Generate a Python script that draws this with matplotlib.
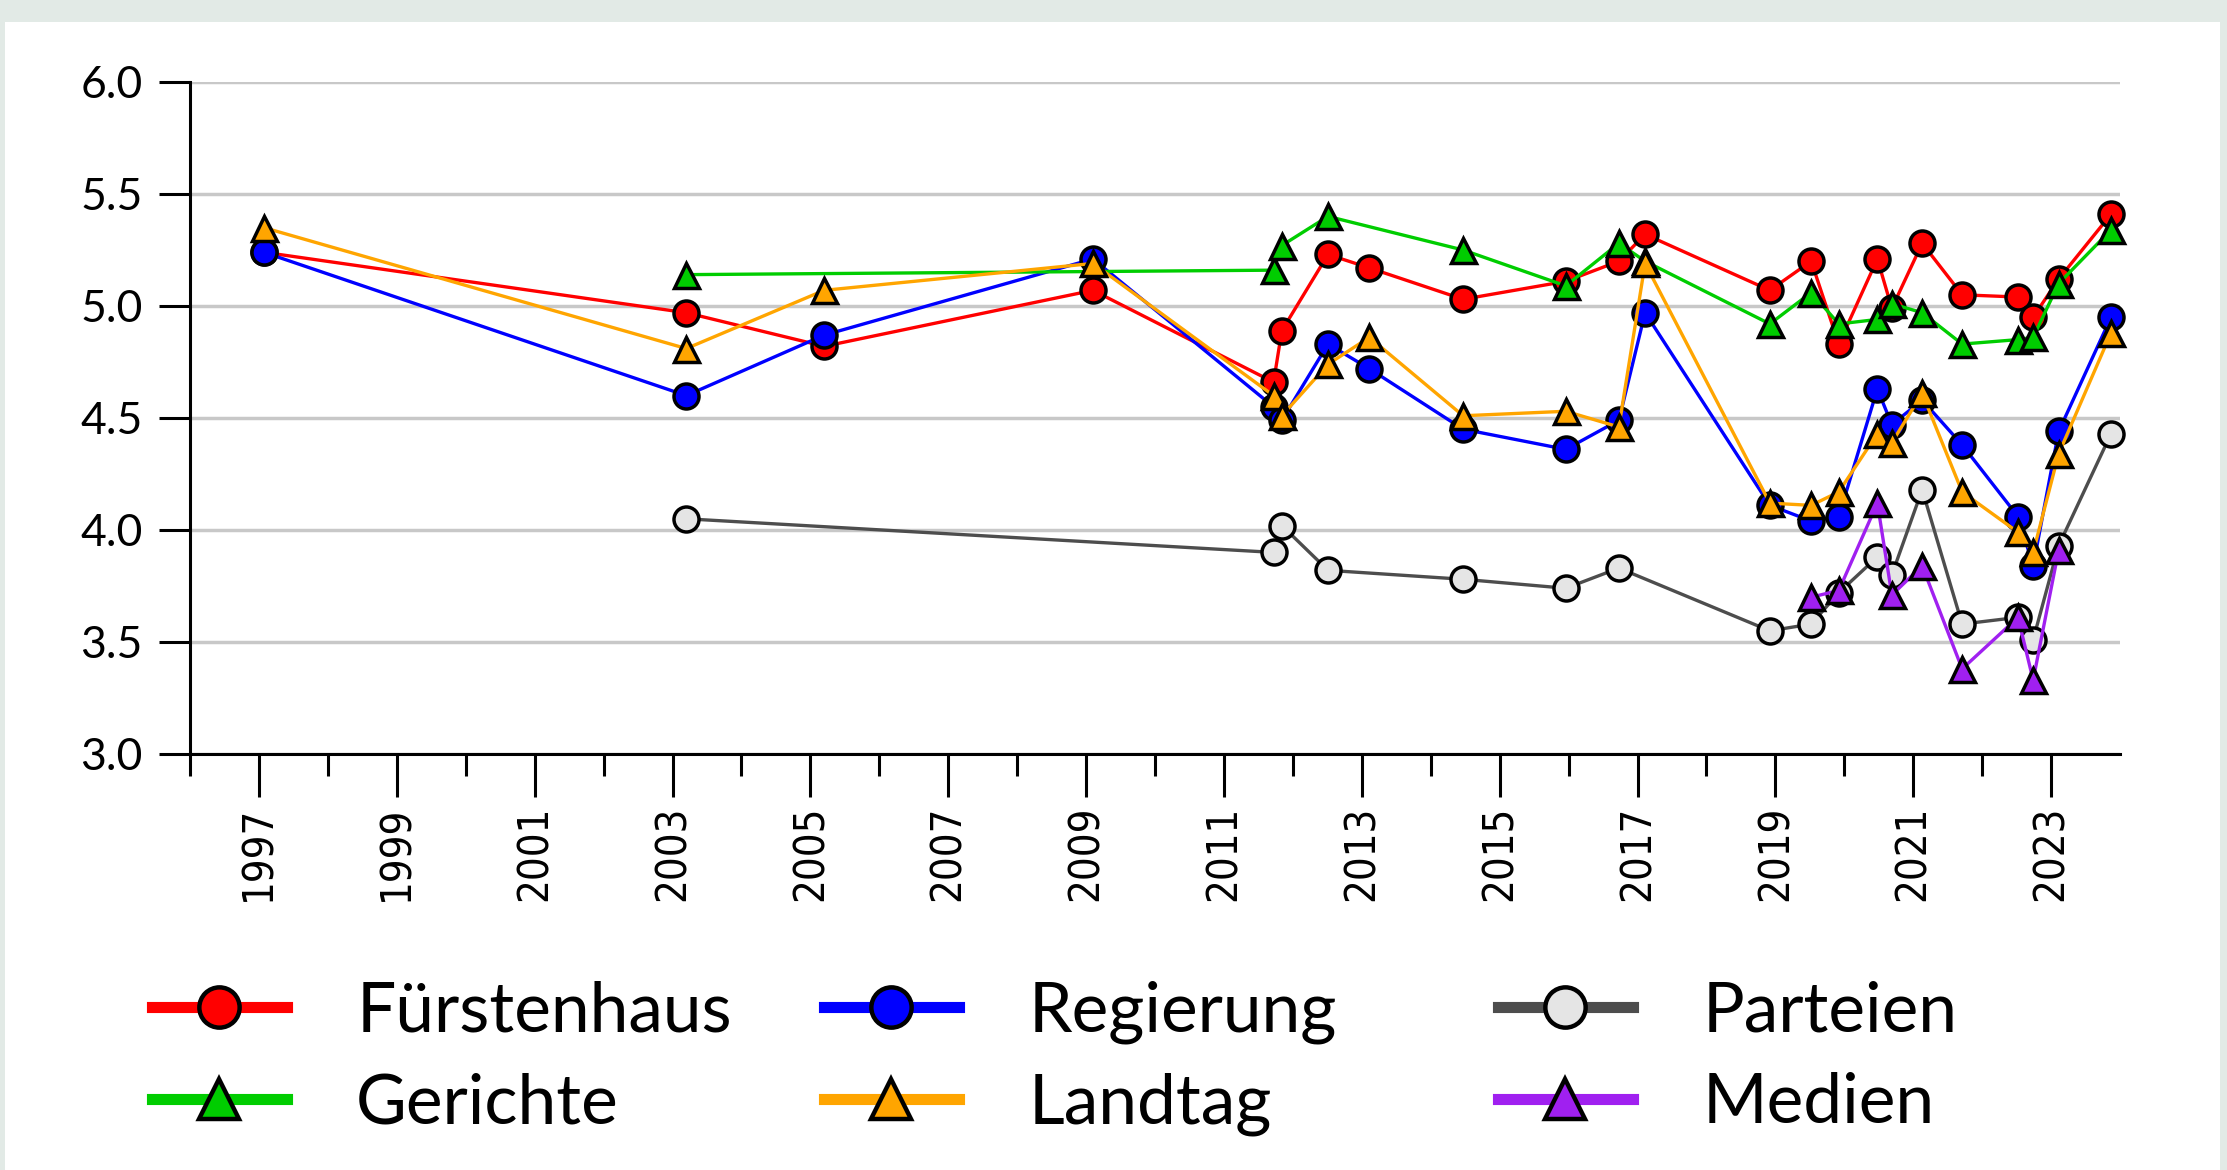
import matplotlib
matplotlib.use('Agg')
import matplotlib.pyplot as plt
from matplotlib.lines import Line2D
from matplotlib.patches import Rectangle
import numpy as np

# survey dates (decimal years) shared by all series
dates = [1997.07, 2003.20, 2005.20, 2009.10, 2011.72, 2011.84, 2012.51, 2013.11,
         2014.47, 2015.96, 2016.73, 2017.11, 2018.92, 2019.52, 2019.92, 2020.48,
         2020.69, 2021.13, 2021.71, 2022.52, 2022.74, 2023.11, 2023.87]

nan = np.nan
fuerstenhaus = [5.24, 4.97, 4.82, 5.07, 4.66, 4.89, 5.23, 5.17, 5.03, 5.11, 5.20, 5.32,
                5.07, 5.20, 4.83, 5.21, 4.99, 5.28, 5.05, 5.04, 4.95, 5.12, 5.41]
regierung = [5.24, 4.60, 4.87, 5.21, 4.55, 4.49, 4.83, 4.72, 4.45, 4.36, 4.49, 4.97,
             4.11, 4.04, 4.06, 4.63, 4.47, 4.58, 4.38, 4.06, 3.84, 4.44, 4.95]
parteien = [nan, 4.05, nan, nan, 3.90, 4.02, 3.82, nan, 3.78, 3.74, 3.83, nan,
            3.55, 3.58, 3.72, 3.88, 3.80, 4.18, 3.58, 3.61, 3.51, 3.93, 4.43]
gerichte = [nan, 5.14, nan, nan, 5.16, 5.27, 5.40, nan, 5.25, 5.09, 5.28, 5.20,
            4.92, 5.06, 4.92, 4.94, 5.01, 4.97, 4.83, 4.85, 4.86, 5.10, 5.34]
landtag = [5.35, 4.81, 5.07, 5.19, 4.60, 4.51, 4.74, 4.86, 4.51, 4.53, 4.46, 5.19,
           4.12, 4.11, 4.17, 4.43, 4.39, 4.61, 4.17, 3.99, 3.90, 4.34, 4.88]
medien = [nan, nan, nan, nan, nan, nan, nan, nan, nan, nan, nan, nan,
          nan, 3.70, 3.73, 4.12, 3.71, 3.84, 3.38, 3.61, 3.33, 3.91, nan]

labels = ['Fürstenhaus', 'Regierung', 'Parteien', 'Gerichte', 'Landtag', 'Medien']
values = [fuerstenhaus, regierung, parteien, gerichte, landtag, medien]
line_colors = ['#ff0000', '#0000ff', '#4d4d4d', '#00cd00', '#ffa500', '#a020f0']
fill_colors = ['#ff0000', '#0000ff', '#e5e5e5', '#00cd00', '#ffa500', '#a020f0']
markers = ['o', 'o', 'o', '^', '^', '^']

W, H = 2227, 1170
fig = plt.figure(figsize=(W / 100, H / 100), dpi=100, facecolor='#e2eae6')
fig.add_artist(Rectangle((5 / W, 0), (2220 - 5) / W, 1 - 22 / H,
                         transform=fig.transFigure, facecolor='white',
                         edgecolor='none', zorder=-1))

ax = fig.add_axes([190 / W, 1 - 754 / H, (2120 - 190) / W, (754 - 82) / H])
ax.set_xlim(1996, 2024)
ax.set_ylim(3, 6)

x = np.array(dates)
for lab, v, lc, fc, m in zip(labels, values, line_colors, fill_colors, markers):
    v = np.array(v, dtype=float)
    ok = ~np.isnan(v)
    ax.plot(x[ok], v[ok], color=lc, lw=2.4, marker=m, ms=18, mfc=fc,
            mec='black', mew=2.5, label=lab, clip_on=False)

for s in ['top', 'right']:
    ax.spines[s].set_visible(False)
for s in ['left', 'bottom']:
    ax.spines[s].set_linewidth(2.2)

ax.set_yticks(np.arange(3.0, 6.01, 0.5))
ax.set_yticklabels(['%.1f' % t for t in np.arange(3.0, 6.01, 0.5)],
                   fontfamily='Lato', fontsize=32)
ax.tick_params(axis='y', length=22, width=2.2, pad=12)
ax.grid(axis='y', color='#c8c8c8', lw=2.5)
ax.set_axisbelow(True)

ax.set_xticks(np.arange(1997, 2024, 2))
ax.set_xticklabels([str(y) for y in range(1997, 2024, 2)], rotation=90,
                   fontfamily='DejaVu Sans', fontstretch='condensed', fontsize=30)
ax.set_xticks(np.arange(1996, 2023, 2), minor=True)
ax.tick_params(axis='x', which='major', length=31, width=2.2, pad=6)
ax.tick_params(axis='x', which='minor', length=16, width=2.2)

# legend, one block per column
col_x = [152, 824, 1498]
for c in range(3):
    hs = []
    for i in (c, c + 3):
        hs.append(Line2D([], [], color=line_colors[i], lw=8, marker=markers[i],
                         ms=29, mfc=fill_colors[i], mec='black', mew=3.2))
    fig.legend(hs, [labels[c], labels[c + 3]], loc='center left',
               bbox_to_anchor=(col_x[c] / W, 1 - 1058 / H), frameon=False,
               borderpad=0, borderaxespad=0, handlelength=1.94, handletextpad=1.0,
               labelspacing=0.41, prop={'family': 'Lato', 'size': 50})

fig.savefig('out.png', dpi=100, facecolor=fig.get_facecolor())
